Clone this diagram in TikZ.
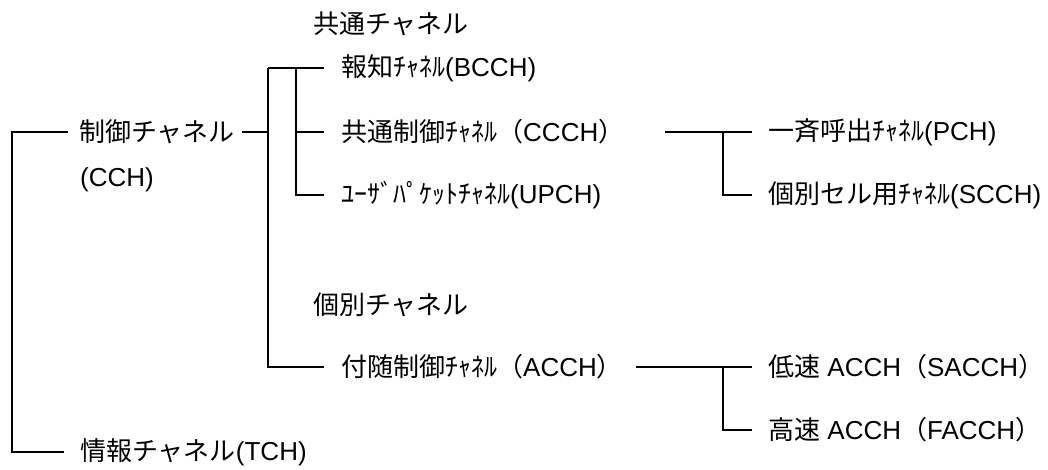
\documentclass[tikz,border=0pt]{standalone}
\usepackage{fontspec}
\setmainfont{Liberation Sans}
\newfontfamily\jp{Noto Sans CJK JP}
\begin{document}
\begin{tikzpicture}[x=1pt,y=-1pt,
  lbl/.style={anchor=west,inner sep=0pt,font=\fontsize{26}{30}\selectfont},
  conn/.style={draw=black,line width=1.3pt}]
\useasboundingbox (0,0) rectangle (1048,470);
% labels
\node[lbl] (common) at (313,24) {\jp 共通チャネル};
\node[lbl] (indiv) at (313,305) {\jp 個別チャネル};
\node[lbl] (cch) at (79,132) {\jp 制御チャネル};
\node[lbl] (cch2) at (80,180) {(CCH)};
\node[lbl] (tch) at (80,452) {{\jp 情報チャネル}(TCH)};
\node[lbl] (bcch) at (341,68) {{\jp 報知ﾁｬﾈﾙ}(BCCH)};
\node[lbl] (ccch) at (341,132) {{\jp 共通制御ﾁｬﾈﾙ（}CCCH{\jp ）}};
\node[lbl] (upch) at (341,195) {{\jp ﾕｰｻﾞﾊﾟｹｯﾄﾁｬﾈﾙ}(UPCH)};
\node[lbl] (acch) at (341,367) {{\jp 付随制御ﾁｬﾈﾙ（}ACCH{\jp ）}};
\node[lbl] (pch) at (768,132) {{\jp 一斉呼出ﾁｬﾈﾙ}(PCH)};
\node[lbl] (scch) at (768,195) {{\jp 個別セル用ﾁｬﾈﾙ}(SCCH)};
\node[lbl] (sacch) at (768,367) {{\jp 低速} ACCH{\jp （}SACCH{\jp ）}};
\node[lbl] (facch) at (768,430) {{\jp 高速} ACCH{\jp （}FACCH{\jp ）}};
% junction coordinates
\coordinate (l1) at (12,132);
\coordinate (l2) at (12,452);
\coordinate (lcch) at (68,132);
\coordinate (ltch) at (64,452);
\coordinate (cchout) at (242,132);
\coordinate (a0) at (268,132);
\coordinate (a1) at (268,68);
\coordinate (a2) at (268,367);
\coordinate (b1) at (296,68);
\coordinate (b2) at (296,132);
\coordinate (b3) at (296,195);
\coordinate (e1) at (324,68);
\coordinate (e2) at (324,132);
\coordinate (e3) at (324,195);
\coordinate (e4) at (324,367);
\coordinate (ccchout) at (665,132);
\coordinate (acchout) at (636,367);
\coordinate (c1) at (723,132);
\coordinate (c2) at (723,195);
\coordinate (c3) at (723,367);
\coordinate (c4) at (723,430);
\coordinate (f1) at (752,132);
\coordinate (f2) at (752,195);
\coordinate (f3) at (752,367);
\coordinate (f4) at (752,430);
% connectors
\draw[conn] (lcch) -- (l1) -- (l2) -- (ltch);
\draw[conn] (cchout) -- (a0);
\draw[conn] (a1) -- (a2) -- (e4);
\draw[conn] (a1) -- (b1);
\draw[conn] (e1) -- (b1) -- (b3) -- (e3);
\draw[conn] (b2) -- (e2);
\draw[conn] (ccchout) -- (f1);
\draw[conn] (c1) -- (c2) -- (f2);
\draw[conn] (acchout) -- (f3);
\draw[conn] (c3) -- (c4) -- (f4);
\end{tikzpicture}
\end{document}
